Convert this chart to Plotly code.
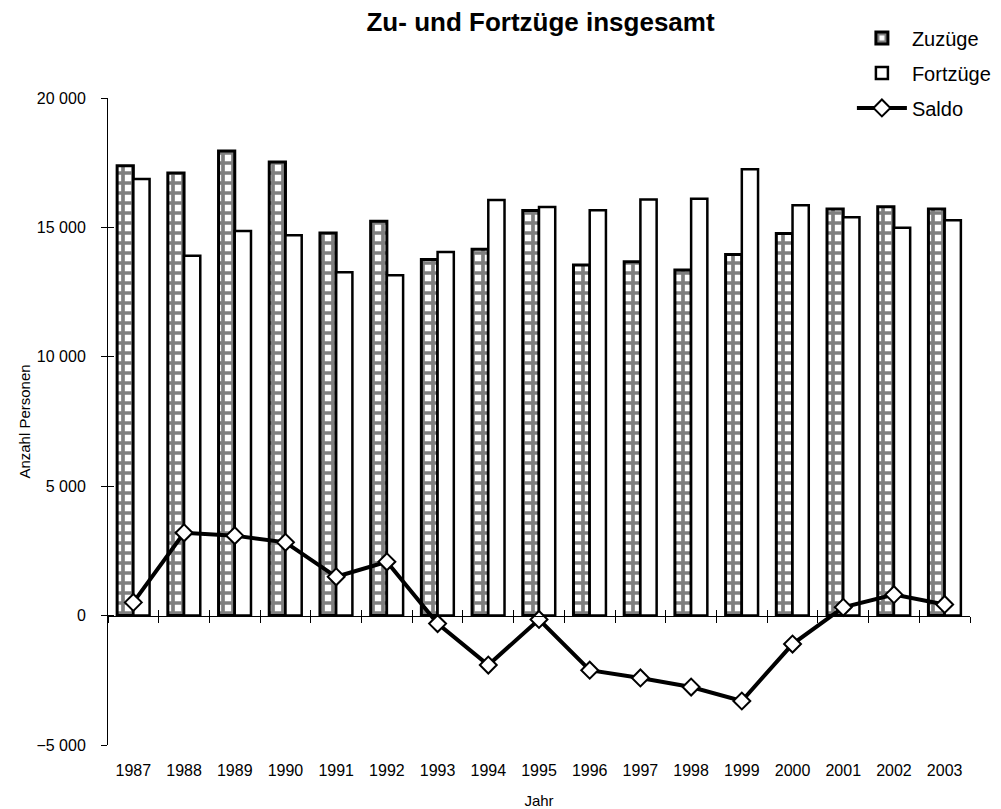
import plotly.graph_objects as go

years = [str(y) for y in range(1987, 2004)]
zuzuege = [17380, 17100, 17950, 17530, 14780, 15240, 13760, 14160, 15650,
           13550, 13670, 13350, 13950, 14760, 15710, 15800, 15710]
fortzuege = [16870, 13900, 14860, 14700, 13270, 13150, 14050, 16060, 15790,
             15660, 16080, 16110, 17250, 15860, 15390, 14990, 15280]
saldo = [510, 3200, 3090, 2830, 1500, 2080, -310, -1910, -150,
         -2110, -2410, -2760, -3300, -1100, 320, 810, 430]
y_ticks = [-5000, 0, 5000, 10000, 15000, 20000]

FONT = "Liberation Sans, Arial, sans-serif"

fig = go.Figure()
fig.add_trace(go.Bar(
    x=years, y=zuzuege, name="Zuzüge", legendgroup="a",
    marker=dict(color="white", line=dict(color="black", width=3),
                pattern=dict(shape="+", fgcolor="black", bgcolor="white", size=10, solidity=0.6)),
))
fig.add_trace(go.Bar(
    x=years, y=fortzuege, name="Fortzüge", legendgroup="b",
    marker=dict(color="white", line=dict(color="black", width=2.5)),
))
fig.add_trace(go.Scatter(
    x=years, y=saldo, name="Saldo", mode="lines+markers", legendgroup="c",
    line=dict(color="black", width=4),
    marker=dict(symbol="diamond", size=13, color="white", line=dict(color="black", width=2)),
))
# helper traces so the overlay axes (crossing ticks, bottom labels) know the categories
fig.add_trace(go.Scatter(x=years, y=saldo, mode="none", xaxis="x2", yaxis="y2",
                         showlegend=False, hoverinfo="skip"))
fig.add_trace(go.Scatter(x=years, y=saldo, mode="none", xaxis="x3", yaxis="y",
                         showlegend=False, hoverinfo="skip"))

zero_pos = 5000 / 25000
x_range = [-0.5, len(years) - 0.5]

fig.update_layout(
    width=1001, height=809,
    margin=dict(l=108, r=31, t=98, b=64, autoexpand=False),
    plot_bgcolor="white", paper_bgcolor="white",
    font=dict(family=FONT, size=16, color="black"),
    separators=", ",
    barmode="group", bargap=0.36, bargroupgap=0.0,
    title=dict(text="<b>Zu- und Fortzüge insgesamt</b>", x=0.54, xanchor="center",
               y=0.973, yanchor="middle", font=dict(size=26, family=FONT)),
    legend=dict(x=0.863, y=1.123, xanchor="left", yanchor="top",
                font=dict(size=20, family=FONT), tracegroupgap=6, itemwidth=50,
                bgcolor="rgba(0,0,0,0)"),
    xaxis=dict(type="category", range=x_range, anchor="free", position=zero_pos, automargin=False,
               showline=True, linecolor="black", linewidth=1,
               ticks="outside", tickson="boundaries", ticklen=6, tickcolor="black",
               showticklabels=False, showgrid=False, zeroline=False),
    xaxis2=dict(type="category", overlaying="x", matches="x", anchor="free", position=zero_pos,
                automargin=False,
                showline=False, ticks="inside", tickson="boundaries", ticklen=6, tickcolor="black",
                showticklabels=False, showgrid=False, zeroline=False),
    xaxis3=dict(type="category", overlaying="x", matches="x", anchor="y", side="bottom",
                automargin=False,
                showline=False, ticks="", showgrid=False, zeroline=False,
                ticklabelstandoff=14, tickfont=dict(size=16),
                title=dict(text="Jahr", standoff=19, font=dict(size=15))),
    yaxis=dict(range=[-5000, 20000], tickvals=y_ticks, automargin=False,
               tickformat=",d", showline=True, linecolor="black", linewidth=1,
               ticks="outside", ticklen=6, tickcolor="black", showgrid=False, zeroline=False,
               ticklabelstandoff=12, tickfont=dict(size=16),
               title=dict(text="Anzahl Personen", standoff=2, font=dict(size=15))),
    yaxis2=dict(overlaying="y", matches="y", anchor="x", side="left", automargin=False,
                tickvals=y_ticks,
                showline=False, ticks="inside", ticklen=6, tickcolor="black",
                showticklabels=False, showgrid=False, zeroline=False),
)

# drop the browser's default 8px body margin so the figure sits at the page corner
fig.write_html("out.html", config={"displayModeBar": False},
               post_script="document.body.style.margin = '0px';")
